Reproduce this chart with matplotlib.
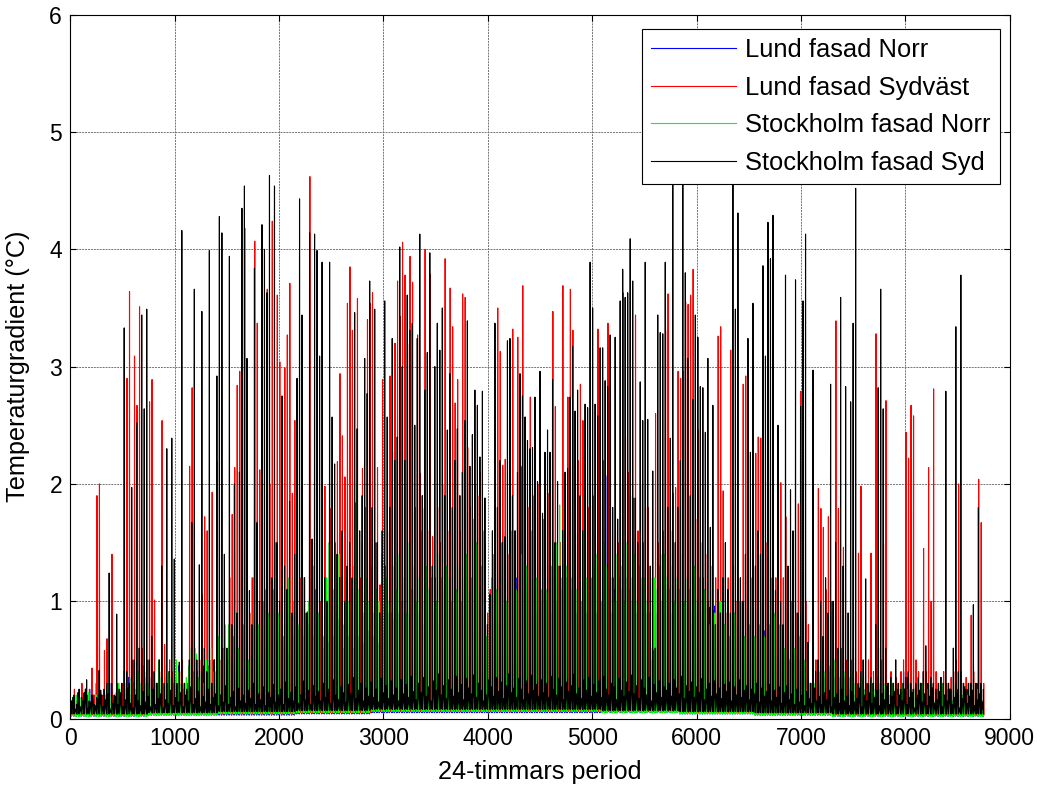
import numpy as np
import matplotlib
matplotlib.use('Agg')
import matplotlib.pyplot as plt

plt.rcParams['font.family'] = ['Liberation Sans', 'DejaVu Sans']

# Daglig topp av temperaturgradienten (°C), ett värde per dygn
lund_norr = [
    0.1, 0.15, 0.12, 0.18, 0.1, 0.2, 0.12, 0.15, 0.25, 0.1,
    0.3, 0.2, 0.12, 0.15, 0.2, 0.18, 0.3, 0.15, 0.2, 0.25,
    0.2, 0.3, 0.25, 0.35, 0.2, 0.3, 0.25, 0.4, 0.3, 0.25,
    0.3, 0.25, 0.35, 0.2, 0.3, 0.4, 0.25, 0.3, 0.35, 0.3,
    0.25, 0.3, 0.35, 0.45, 0.3, 0.25, 0.3, 0.4, 0.35, 0.3,
    0.4, 0.3, 0.35, 0.45, 0.3, 0.4, 0.35, 0.5, 0.3, 0.45,
    0.4, 0.5, 0.35, 0.6, 0.45, 0.5, 0.7, 0.4, 0.6, 0.5,
    0.55, 0.4, 0.7, 0.6, 0.5, 0.65, 0.45, 0.8, 0.5, 0.6,
    0.7, 0.5, 0.6, 0.75, 0.5, 0.65, 0.8, 0.55, 0.6, 0.7,
    0.6, 0.75, 0.5, 0.7, 0.6, 0.8, 0.55, 0.7, 0.6, 0.9,
    0.7, 0.6, 0.8, 0.65, 0.9, 0.7, 0.6, 0.85, 0.7, 0.6,
    0.8, 0.7, 0.9, 0.6, 0.8, 0.7, 1.0, 0.65, 0.8, 0.75,
    0.9, 0.7, 0.8, 0.65, 1.0, 0.75, 0.8, 0.9, 0.7, 0.85,
    0.8, 0.9, 0.7, 1.0, 0.8, 0.9, 0.75, 1.1, 0.8, 0.9,
    1.0, 0.8, 0.9, 1.1, 0.85, 0.9, 1.0, 0.8, 1.1, 0.9,
    0.9, 1.0, 0.8, 1.1, 0.9, 1.0, 0.85, 1.2, 0.9, 1.0,
    0.8, 1.0, 0.9, 1.1, 0.8, 0.7, 0.6, 0.8, 0.9, 1.1,
    1.0, 0.9, 1.2, 0.8, 1.0, 1.1, 0.9, 1.0, 1.2, 0.9,
    2.15, 1.0, 1.1, 0.9, 1.2, 1.0, 0.9, 1.1, 1.0, 1.99,
    1.0, 1.1, 0.9, 1.2, 1.0, 0.9, 1.1, 1.0, 1.2, 0.9,
    1.1, 1.0, 0.9, 1.2, 1.0, 1.1, 0.9, 1.0, 1.2, 1.0,
    0.9, 1.1, 1.0, 1.2, 2.07, 1.0, 0.9, 1.1, 1.0, 0.9,
    1.1, 1.0, 1.2, 0.9, 1.0, 1.1, 0.9, 1.0, 1.2, 1.0,
    0.9, 0.8, 0.5, 1.0, 0.9, 1.1, 1.0, 0.9, 1.1, 1.0,
    0.9, 1.0, 1.1, 0.9, 1.0, 0.8, 1.0, 0.9, 0.8, 1.0,
    0.9, 0.8, 1.0, 0.9, 0.8, 0.95, 0.9, 0.96, 0.95, 0.9,
    0.96, 0.8, 0.9, 0.7, 0.8, 0.9, 0.7, 0.8, 0.75, 0.7,
    0.8, 0.7, 0.75, 0.6, 0.8, 0.7, 0.6, 0.75, 0.7, 0.6,
    0.65, 0.7, 0.6, 0.5, 0.65, 0.55, 0.6, 0.5, 0.55, 0.5,
    0.45, 0.5, 0.4, 0.45, 0.35, 0.3, 0.3, 0.25, 0.35, 0.3,
    0.4, 0.35, 0.3, 0.4, 0.3, 0.35, 0.3, 0.25, 0.3, 0.35,
    0.3, 0.25, 0.3, 0.2, 0.25, 0.3, 0.2, 0.25, 0.2, 0.3,
    0.25, 0.2, 0.3, 0.25, 0.2, 0.25, 0.3, 0.2, 0.25, 0.2,
    0.25, 0.2, 0.3, 0.4, 0.35, 0.25, 0.2, 0.25, 0.2, 0.3,
    0.25, 0.2, 0.3, 0.25, 0.2, 0.15, 0.25, 0.2, 0.3, 0.2,
    0.2, 0.25, 0.15, 0.2, 0.25, 0.2, 0.15, 0.2, 0.25, 0.3,
    0.2, 0.25, 0.3, 0.2, 0.15,
]

lund_sydvast = [
    0.12, 0.25, 0.15, 0.2, 0.3, 0.1, 0.2, 0.25, 0.43, 0.2,
    1.9, 2.0, 0.2, 0.58, 0.68, 0.3, 1.4, 0.2, 0.3, 0.2,
    0.3, 0.4, 2.9, 3.64, 0.5, 3.09, 2.67, 3.51, 0.6, 0.4,
    0.5, 2.7, 2.89, 1.01, 0.3, 0.4, 2.54, 0.63, 0.3, 0.5,
    0.4, 0.3, 0.3, 0.4, 0.5, 0.3, 0.3, 2.15, 2.82, 0.6,
    0.4, 0.5, 1.06, 1.72, 1.6, 0.5, 1.93, 0.4, 2.19, 0.5,
    0.6, 0.8, 0.5, 1.2, 1.74, 2.14, 2.84, 2.96, 1.5, 4.18,
    1.53, 0.9, 1.2, 4.07, 3.37, 2.12, 0.8, 1.1, 3.66, 2.0,
    4.24, 1.5, 3.61, 3.04, 1.3, 2.99, 3.27, 3.71, 1.92, 2.54,
    1.5, 1.2, 1.0, 0.9, 0.91, 4.62, 1.4, 1.1, 1.3, 1.0,
    1.2, 1.98, 1.0, 1.79, 1.3, 1.5, 2.19, 2.94, 2.41, 2.06,
    3.54, 3.85, 3.31, 1.84, 3.58, 1.2, 2.13, 1.8, 3.4, 3.54,
    3.63, 1.5, 2.14, 1.14, 2.89, 1.3, 1.6, 2.92, 2.27, 3.2,
    3.73, 3.43, 4.06, 3.78, 3.19, 3.94, 3.72, 1.8, 3.27, 2.09,
    1.79, 4.0, 1.6, 3.79, 1.55, 1.2, 1.8, 1.5, 2.0, 3.92,
    1.6, 3.67, 3.34, 2.69, 2.89, 1.6, 3.62, 3.59, 2.31, 1.8,
    1.7, 2.0, 1.9, 2.1, 1.6, 1.5, 0.9, 1.1, 1.4, 2.97,
    3.5, 3.13, 2.16, 2.21, 1.4, 2.15, 3.32, 1.6, 3.25, 1.9,
    3.69, 2.57, 1.8, 2.74, 1.9, 1.6, 2.0, 1.4, 1.7, 1.6,
    1.92, 1.8, 3.47, 2.66, 1.3, 1.5, 3.69, 1.6, 2.74, 3.66,
    3.31, 2.62, 2.2, 2.85, 2.54, 2.22, 1.8, 2.3, 1.9, 1.6,
    3.32, 2.4, 2.2, 2.1, 3.37, 2.7, 1.2, 1.6, 1.5, 2.0,
    3.63, 2.4, 2.1, 1.9, 1.88, 3.44, 1.6, 2.0, 1.5, 1.8,
    1.8, 1.2, 0.58, 2.6, 1.5, 1.4, 1.6, 3.31, 3.62, 1.6,
    1.92, 1.97, 2.96, 2.9, 2.96, 3.55, 3.53, 3.61, 3.83, 1.7,
    2.46, 1.5, 1.2, 1.4, 1.0, 1.3, 0.92, 1.2, 3.26, 3.34,
    1.94, 0.9, 1.2, 3.14, 1.3, 1.0, 1.2, 1.0, 2.85, 2.92,
    1.7, 1.2, 1.4, 2.26, 2.4, 2.39, 2.7, 1.5, 1.3, 1.2,
    1.0, 1.2, 0.8, 2.01, 1.2, 1.72, 1.1, 1.0, 1.3, 0.9,
    1.83, 2.79, 1.2, 1.0, 0.8, 0.3, 0.4, 0.5, 1.96, 1.79,
    1.63, 1.1, 1.72, 1.0, 0.8, 3.39, 1.79, 0.6, 1.46, 0.5,
    0.4, 0.5, 0.6, 0.4, 1.41, 1.98, 0.4, 0.3, 0.5, 1.41,
    0.4, 3.28, 0.6, 0.5, 1.49, 2.71, 0.3, 0.4, 0.3, 0.35,
    0.3, 0.4, 0.5, 2.44, 2.22, 2.67, 2.58, 0.5, 0.4, 0.3,
    1.45, 0.4, 2.14, 1.0, 2.81, 0.4, 0.3, 0.35, 0.4, 0.3,
    0.3, 0.35, 0.4, 0.5, 2.0, 0.4, 0.3, 0.35, 0.3, 0.88,
    0.4, 0.3, 2.04, 1.67, 0.3,
]

sthlm_norr = [
    0.15, 0.1, 0.2, 0.12, 0.18, 0.1, 0.15, 0.22, 0.12, 0.1,
    0.2, 0.15, 0.12, 0.25, 0.18, 0.3, 0.2, 0.15, 0.22, 0.3,
    0.25, 0.4, 0.3, 0.2, 0.35, 0.3, 0.25, 0.4, 0.3, 0.45,
    0.35, 0.3, 0.25, 0.4, 0.3, 0.5, 0.35, 0.3, 0.45, 0.4,
    0.35, 0.3, 0.5, 0.4, 0.3, 0.25, 0.35, 0.45, 0.6, 0.4,
    0.55, 0.35, 0.4, 0.3, 0.5, 0.45, 0.6, 0.4, 0.5, 0.7,
    0.5, 0.6, 0.45, 0.8, 0.5, 0.7, 0.9, 0.6, 0.5, 0.8,
    0.7, 0.5, 0.9, 1.2, 0.6, 0.8, 0.7, 1.0, 0.6, 0.9,
    0.7, 1.1, 0.6, 0.9, 1.3, 0.7, 0.8, 1.2, 0.6, 1.0,
    1.1, 0.8, 0.7, 1.2, 0.9, 1.0, 0.7, 1.3, 0.8, 0.9,
    1.0, 0.7, 1.2, 1.5, 0.8, 1.1, 0.9, 1.4, 1.0, 0.8,
    1.2, 1.0, 0.9, 1.3, 2.0, 1.1, 1.5, 0.9, 1.2, 1.0,
    1.3, 0.9, 1.1, 1.0, 1.4, 0.8, 1.2, 1.0, 0.9, 1.3,
    1.1, 1.4, 1.0, 1.2, 0.9, 1.5, 1.1, 1.3, 1.0, 1.2,
    1.6, 1.0, 1.3, 1.1, 1.2, 1.5, 1.0, 1.4, 1.2, 1.1,
    1.3, 1.2, 1.0, 1.5, 1.1, 1.3, 1.0, 1.2, 1.4, 1.1,
    1.2, 1.0, 1.5, 1.1, 1.3, 0.9, 0.7, 0.9, 1.2, 1.4,
    1.1, 1.3, 1.5, 1.2, 1.0, 1.4, 1.6, 1.2, 1.1, 1.3,
    1.4, 1.1, 1.3, 1.2, 1.6, 1.0, 1.2, 1.4, 1.1, 1.3,
    1.1, 1.0, 1.3, 1.2, 1.5, 1.82, 1.2, 1.1, 1.3, 1.0,
    1.2, 1.4, 1.1, 1.3, 1.0, 1.9, 1.2, 1.5, 1.1, 1.3,
    1.4, 1.2, 1.0, 1.5, 1.3, 1.1, 1.2, 1.0, 1.4, 1.2,
    1.3, 1.0, 1.5, 1.1, 1.2, 1.4, 1.0, 1.3, 1.1, 1.2,
    1.0, 0.9, 0.6, 1.2, 1.1, 1.3, 1.0, 1.4, 1.2, 1.1,
    1.3, 1.0, 1.2, 1.1, 1.4, 1.0, 1.2, 1.1, 0.9, 1.3,
    1.0, 1.2, 0.9, 1.1, 1.0, 0.8, 1.1, 0.9, 0.8, 1.0,
    0.9, 0.8, 1.0, 0.7, 1.1, 0.9, 0.8, 1.0, 0.9, 0.7,
    0.9, 0.8, 1.0, 0.7, 0.9, 0.8, 1.1, 0.7, 0.9, 0.8,
    0.7, 0.9, 0.6, 0.8, 0.7, 0.6, 0.8, 0.5, 0.7, 0.6,
    0.5, 0.7, 0.6, 0.5, 0.4, 0.3, 0.35, 0.3, 0.45, 0.4,
    0.5, 0.4, 0.35, 0.45, 0.3, 0.5, 0.4, 0.35, 0.3, 0.4,
    0.3, 0.35, 0.4, 0.3, 0.25, 0.3, 0.35, 0.25, 0.3, 0.2,
    0.3, 0.25, 0.35, 0.3, 0.2, 0.3, 0.25, 0.2, 0.3, 0.25,
    0.2, 0.25, 0.3, 0.2, 0.25, 0.3, 0.2, 0.25, 0.15, 0.2,
    0.3, 0.2, 0.25, 0.3, 0.2, 0.15, 0.25, 0.2, 0.3, 0.2,
    0.25, 0.2, 0.15, 0.3, 0.2, 0.25, 0.2, 0.15, 0.2, 0.25,
    0.2, 0.3, 0.25, 0.2, 0.15,
]

sthlm_syd = [
    0.15, 0.2, 0.12, 0.25, 0.18, 0.22, 0.33, 0.15, 0.2, 0.12,
    0.18, 0.41, 0.2, 0.25, 0.3, 1.24, 0.3, 0.2, 0.89, 0.25,
    0.3, 3.33, 0.4, 0.3, 1.97, 0.5, 2.52, 0.6, 3.44, 2.64,
    3.49, 0.5, 0.7, 0.4, 0.3, 0.5, 1.3, 0.3, 2.3, 0.4,
    2.39, 1.36, 0.3, 0.48, 4.16, 0.3, 0.25, 0.5, 1.67, 3.66,
    0.5, 1.31, 3.47, 0.6, 0.4, 3.99, 0.3, 0.5, 2.92, 4.28,
    4.14, 1.4, 0.6, 3.94, 0.8, 2.0, 0.9, 2.1, 4.35, 4.54,
    3.07, 1.09, 0.8, 3.84, 1.67, 1.0, 4.21, 4.0, 3.63, 4.63,
    1.2, 4.54, 1.5, 1.0, 2.75, 1.3, 1.1, 1.85, 0.9, 1.4,
    2.9, 4.43, 3.44, 1.2, 0.9, 4.14, 1.53, 4.13, 3.99, 3.09,
    3.89, 1.2, 1.0, 3.89, 2.57, 2.17, 1.4, 1.2, 1.6, 1.0,
    1.3, 1.5, 1.2, 3.46, 2.47, 1.6, 1.9, 3.07, 2.77, 3.73,
    1.8, 3.49, 1.5, 0.9, 1.6, 3.56, 2.57, 1.8, 3.24, 2.2,
    2.4, 4.02, 3.0, 2.2, 3.61, 3.31, 3.37, 2.5, 3.24, 4.13,
    1.9, 2.8, 3.12, 3.97, 1.3, 3.0, 3.37, 3.14, 3.5, 1.9,
    2.46, 2.94, 1.8, 2.2, 2.47, 1.9, 2.1, 2.54, 3.39, 2.15,
    2.42, 2.8, 2.67, 2.23, 2.79, 1.88, 0.8, 1.06, 1.6, 3.37,
    1.8, 2.2, 1.5, 1.55, 3.22, 3.24, 1.9, 1.6, 2.1, 2.94,
    2.75, 2.57, 2.37, 2.3, 2.31, 2.74, 2.02, 2.96, 1.75, 2.27,
    2.46, 2.27, 2.89, 1.5, 2.02, 1.3, 1.6, 2.1, 2.13, 2.74,
    3.17, 2.62, 2.8, 1.9, 1.6, 2.68, 2.65, 3.89, 3.5, 2.68,
    2.58, 3.16, 3.16, 2.88, 2.83, 3.27, 1.8, 3.25, 1.7, 3.56,
    3.83, 3.59, 3.63, 4.09, 3.73, 1.88, 1.5, 2.87, 2.54, 3.89,
    2.55, 1.3, 2.11, 0.6, 3.44, 3.29, 3.28, 3.89, 1.8, 2.39,
    5.0, 1.5, 1.8, 2.2, 5.0, 3.8, 3.07, 1.9, 2.72, 3.44,
    3.25, 2.83, 2.82, 2.44, 3.07, 1.63, 2.67, 0.8, 1.1, 0.9,
    1.2, 1.5, 1.1, 0.9, 5.0, 3.49, 4.31, 1.2, 1.0, 1.4,
    3.24, 2.27, 3.54, 1.3, 1.6, 1.4, 3.86, 3.09, 4.23, 3.92,
    4.29, 1.09, 2.5, 1.0, 0.8, 3.78, 1.3, 1.95, 1.6, 3.74,
    0.9, 2.66, 3.56, 4.13, 0.65, 0.3, 2.97, 0.4, 0.5, 1.0,
    0.7, 1.2, 0.9, 2.85, 1.0, 1.5, 0.6, 3.59, 1.3, 2.83,
    0.9, 2.7, 3.37, 4.52, 0.3, 0.4, 0.5, 1.19, 0.3, 0.35,
    0.3, 0.8, 2.82, 3.66, 2.64, 0.6, 0.3, 0.35, 0.3, 0.5,
    0.3, 0.25, 0.3, 0.35, 0.4, 0.3, 0.25, 0.3, 0.35, 0.3,
    0.4, 0.62, 0.3, 0.35, 0.3, 0.25, 0.3, 0.35, 0.3, 2.79,
    0.3, 0.25, 0.6, 3.34, 0.4, 3.78, 0.3, 0.25, 0.3, 0.3,
    0.97, 0.3, 1.8, 0.3, 0.25,
]

# Nattnivå per dygn (°C), gemensam för alla fasader
night_level = [
    0.12, 0.18, 0.08, 0.22, 0.10, 0.15, 0.25, 0.09, 0.14, 0.20,
    0.11, 0.17, 0.24, 0.10, 0.16, 0.21, 0.08, 0.13, 0.19, 0.12,
    0.22, 0.10, 0.16, 0.26, 0.13, 0.09, 0.20, 0.15, 0.11, 0.23,
    0.14, 0.19, 0.10, 0.25, 0.12, 0.17, 0.21, 0.09, 0.16, 0.13,
    0.24, 0.11, 0.18, 0.14, 0.22, 0.10, 0.20, 0.15, 0.27, 0.12,
    0.17, 0.23, 0.10, 0.19, 0.14, 0.25, 0.12, 0.18, 0.21, 0.11,
    0.20, 0.14, 0.28, 0.12, 0.18, 0.23, 0.10, 0.26, 0.15, 0.20,
    0.13, 0.24, 0.17, 0.30, 0.12, 0.21, 0.16, 0.27, 0.11, 0.22,
    0.18, 0.29, 0.14, 0.20, 0.25, 0.12, 0.31, 0.17, 0.22, 0.15,
    0.27, 0.13, 0.20, 0.32, 0.16, 0.24, 0.12, 0.28, 0.19, 0.23,
    0.15, 0.30, 0.18, 0.25, 0.13, 0.33, 0.20, 0.16, 0.27, 0.22,
    0.14, 0.29, 0.21, 0.35, 0.17, 0.24, 0.30, 0.15, 0.26, 0.19,
    0.31, 0.18, 0.25, 0.14, 0.34, 0.22, 0.28, 0.17, 0.32, 0.20,
    0.26, 0.15, 0.33, 0.21, 0.29, 0.18, 0.36, 0.23, 0.16, 0.30,
    0.22, 0.35, 0.19, 0.27, 0.15, 0.32, 0.24, 0.38, 0.20, 0.28,
    0.17, 0.33, 0.25, 0.19, 0.36, 0.22, 0.29, 0.16, 0.34, 0.26,
    0.21, 0.37, 0.18, 0.30, 0.24, 0.15, 0.20, 0.33, 0.27, 0.19,
    0.35, 0.23, 0.31, 0.17, 0.28, 0.38, 0.22, 0.26, 0.18, 0.34,
    0.25, 0.16, 0.32, 0.21, 0.37, 0.24, 0.29, 0.19, 0.33, 0.22,
    0.30, 0.18, 0.36, 0.25, 0.20, 0.34, 0.27, 0.16, 0.31, 0.23,
    0.28, 0.38, 0.21, 0.26, 0.17, 0.33, 0.24, 0.35, 0.19, 0.29,
    0.22, 0.32, 0.18, 0.36, 0.25, 0.20, 0.30, 0.27, 0.16, 0.34,
    0.24, 0.19, 0.31, 0.23, 0.37, 0.21, 0.28, 0.17, 0.33, 0.26,
    0.20, 0.35, 0.15, 0.29, 0.22, 0.32, 0.18, 0.27, 0.24, 0.30,
    0.19, 0.33, 0.26, 0.21, 0.36, 0.17, 0.28, 0.23, 0.31, 0.18,
    0.27, 0.22, 0.34, 0.16, 0.25, 0.30, 0.19, 0.32, 0.21, 0.26,
    0.17, 0.29, 0.23, 0.31, 0.15, 0.27, 0.20, 0.33, 0.18, 0.24,
    0.28, 0.16, 0.25, 0.21, 0.30, 0.14, 0.26, 0.19, 0.23, 0.29,
    0.15, 0.24, 0.18, 0.27, 0.13, 0.22, 0.28, 0.16, 0.21, 0.12,
    0.25, 0.14, 0.20, 0.11, 0.23, 0.17, 0.13, 0.26, 0.15, 0.19,
    0.12, 0.22, 0.16, 0.24, 0.10, 0.18, 0.21, 0.13, 0.25, 0.15,
    0.19, 0.11, 0.23, 0.14, 0.17, 0.26, 0.10, 0.20, 0.15, 0.22,
    0.13, 0.18, 0.24, 0.11, 0.21, 0.16, 0.27, 0.12, 0.19, 0.23,
    0.10, 0.20, 0.15, 0.25, 0.12, 0.18, 0.22, 0.09, 0.17, 0.24,
    0.14, 0.21, 0.11, 0.19, 0.26, 0.13, 0.16, 0.23, 0.10, 0.20,
    0.15, 0.25, 0.12, 0.18, 0.22, 0.09, 0.17, 0.27, 0.13, 0.19,
    0.24, 0.11, 0.16, 0.21, 0.14,
]

# Månadsvis lägsta nivå precis före och efter toppen (°C)
days_in_month = [31, 28, 31, 30, 31, 30, 31, 31, 30, 31, 30, 31]
lund_norr_low = [0.02, 0.03, 0.03, 0.04, 0.05, 0.05, 0.05, 0.05, 0.04, 0.03, 0.02, 0.02]
lund_sydvast_low = [0.03, 0.04, 0.04, 0.05, 0.06, 0.06, 0.06, 0.06, 0.05, 0.04, 0.03, 0.03]
sthlm_norr_low = [0.02, 0.03, 0.04, 0.05, 0.06, 0.06, 0.06, 0.05, 0.04, 0.03, 0.02, 0.02]
sthlm_syd_low = [0.04, 0.05, 0.06, 0.07, 0.08, 0.08, 0.08, 0.07, 0.06, 0.05, 0.04, 0.04]


def hourly_line(peaks, low, night_hour, peak_hour):
    # dygnskurva: natt -> lågt -> topp -> lågt
    day_low = np.repeat(low, days_in_month)
    x, y = [], []
    for d, p in enumerate(peaks):
        h = 24 * d
        x += [h + night_hour, h + peak_hour - 2, h + peak_hour, h + peak_hour + 2]
        y += [night_level[d], day_low[d], p, day_low[d]]
    return x, y


fig = plt.figure(figsize=(10.42, 7.92), dpi=100)
ax = fig.add_axes([0.0675, 0.0928, 0.9015, 0.8886])

series = [
    (lund_norr, lund_norr_low, 3, 9, (0, 0, 1), 'Lund fasad Norr'),
    (lund_sydvast, lund_sydvast_low, 5, 15, (1, 0, 0), 'Lund fasad Sydväst'),
    (sthlm_norr, sthlm_norr_low, 1, 8, (0, 1, 0), 'Stockholm fasad Norr'),
    (sthlm_syd, sthlm_syd_low, 0, 12, (0, 0, 0), 'Stockholm fasad Syd'),
]
for peaks, low, nh, ph, col, name in series:
    x, y = hourly_line(peaks, low, nh, ph)
    ax.plot(x, y, color=col, linewidth=0.8, label=name)

ax.set_xlim(0, 9000)
ax.set_ylim(0, 6)
ax.set_xticks(np.arange(0, 9001, 1000))
ax.set_yticks(np.arange(0, 7, 1))
ax.tick_params(direction='in', length=4, width=0.8, top=True, right=True,
               labelsize=16.5, pad=6)
ax.grid(True, linestyle=(0, (2, 1)), color='0.45', linewidth=0.7)
for s in ax.spines.values():
    s.set_linewidth(0.8)

ax.set_xlabel('24-timmars period', fontsize=18.2)
ax.set_ylabel('Temperaturgradient (°C)', fontsize=18.2)
ax.xaxis.set_label_coords(0.5, -0.059)
ax.yaxis.set_label_coords(-0.043, 0.5)

leg = ax.legend(loc='upper right', bbox_to_anchor=(0.9897, 0.9797), borderaxespad=0,
                fontsize=18.4, handlelength=3.3, handletextpad=0.38, labelspacing=0.53,
                borderpad=0.36, fancybox=False, framealpha=1, edgecolor='k')
leg.get_frame().set_linewidth(0.8)

plt.savefig('out.png', dpi=100)
